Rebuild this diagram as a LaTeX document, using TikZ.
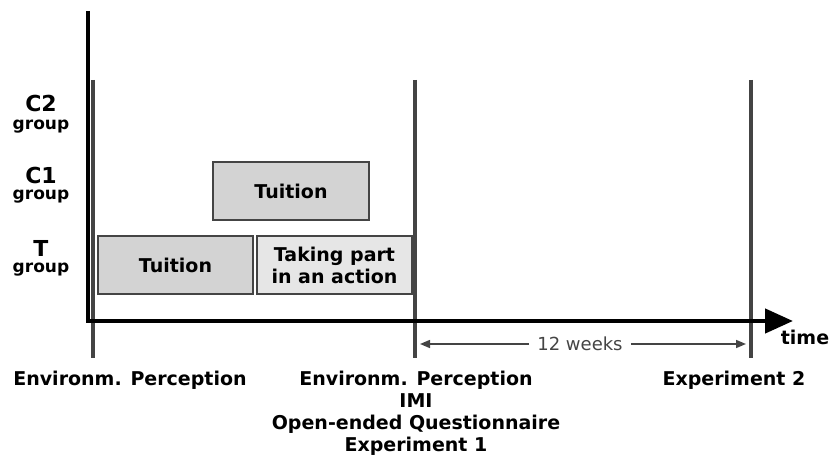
\documentclass[tikz,border=0pt]{standalone}
\usepackage{fontspec}
\setmainfont{DejaVu Sans}
\usetikzlibrary{arrows.meta}
\definecolor{linegray}{HTML}{444444}
\definecolor{boxgray}{HTML}{D3D3D3}
\definecolor{lightbox}{HTML}{E6E6E6}
\begin{document}
\begin{tikzpicture}[x=1pt,y=-1pt,
  phase/.style={draw=linegray,line width=1.3pt,fill=boxgray,inner sep=0pt,font=\bfseries\fontsize{19}{22}\selectfont,align=center},
  marker/.style={draw=linegray,line width=3.2pt},
  grp/.style={font=\bfseries\fontsize{22}{24}\selectfont,inner sep=0pt},
  grpsub/.style={font=\bfseries\fontsize{17}{19}\selectfont,inner sep=0pt},
  lbl/.style={font=\bfseries\fontsize{19}{22}\selectfont,align=center,inner sep=0pt,anchor=north}]
\useasboundingbox (0,0) rectangle (829,462);
% markers
\coordinate (m1t) at (93,80); \coordinate (m1b) at (93,358);
\coordinate (m2t) at (415,80); \coordinate (m2b) at (415,358);
\coordinate (m3t) at (751,80); \coordinate (m3b) at (751,358);
\draw[marker] (m1t) -- (m1b);
\draw[marker] (m2t) -- (m2b);
\draw[marker] (m3t) -- (m3b);
% axes
\coordinate (ytop) at (88,11);
\coordinate (orig) at (88,321);
\coordinate (xend) at (793,321);
\draw[line width=4.5pt] (ytop) -- (88,323);
\draw[line width=4.5pt,-{Triangle[length=28pt,width=24pt]}] (86,321) -- (xend);
% boxes
\node[phase,minimum width=156pt,minimum height=58pt] (c1t) at (291,191) {Tuition};
\node[phase,minimum width=155pt,minimum height=58pt] (tt) at (175.5,265) {Tuition};
\node[phase,fill=lightbox,minimum width=155pt,minimum height=58pt] (ta) at (334.5,265) {Taking part\\in an action};
% group labels
\node[grp] (c2) at (41,103) {C2};
\node[grpsub] (c2g) at (41,127) {group};
\node[grp] (c1) at (41,175) {C1};
\node[grpsub] (c1g) at (41,197) {group};
\node[grp] (t) at (41,248) {T};
\node[grpsub] (tg) at (41,270) {group};
% time
\node[font=\bfseries\fontsize{19}{21}\selectfont,inner sep=0pt] (time) at (805,337) {time};
% 12 weeks
\node[font=\fontsize{18}{20}\selectfont,text=linegray,fill=white,inner ysep=0pt,inner xsep=8pt] (wk) at (580,344) {12 weeks};
\draw[linegray,line width=1.5pt,-{Triangle[length=10pt,width=8pt]}] (wk.west) -- (420,344);
\draw[linegray,line width=1.5pt,-{Triangle[length=10pt,width=8pt]}] (wk.east) -- (746,344);
% bottom labels
\node[lbl] (l1) at (130,371) {Environm. Perception};
\node[lbl] (l2) at (416,371) {Environm. Perception\\IMI\\Open-ended Questionnaire\\Experiment 1};
\node[lbl] (l3) at (734,371) {Experiment 2};
\end{tikzpicture}
\end{document}
